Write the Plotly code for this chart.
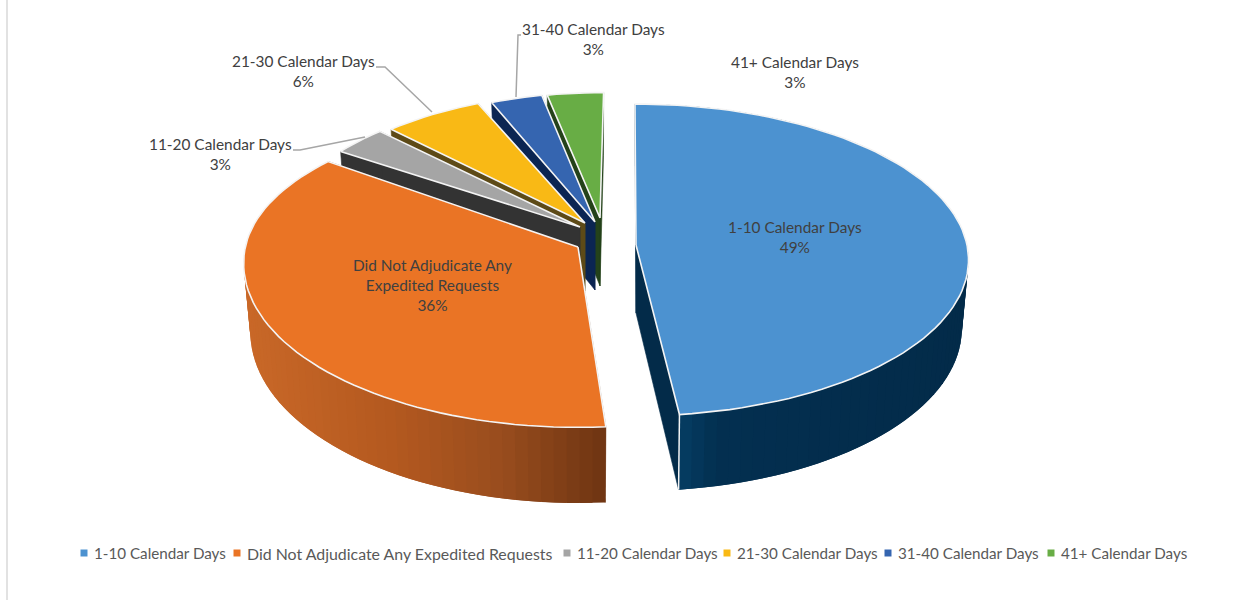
import math
import plotly.graph_objects as go

# ---- data ----
categories = ["1-10 Calendar Days", "Did Not Adjudicate Any Expedited Requests",
              "11-20 Calendar Days", "21-30 Calendar Days",
              "31-40 Calendar Days", "41+ Calendar Days"]
slice_shares = [48.3, 36.2, 3.2, 6.0, 3.2, 3.1]   # estimated from the drawn wedges
percent_labels = ["49%", "36%", "3%", "6%", "3%", "3%"]

# ---- styling / layout of the pseudo-3D pie ----
top_colors = ["#4c92d0", "#ea7425", "#a5a5a5", "#f9b915", "#3565b0", "#68ad45"]
face_colors = ["#032b49", "#6e3512", "#333333", "#5d4a17", "#0b2552", "#24421a"]
rim_ramps = [[(0.0, "#074d78"), (0.25, "#032f50"), (1.0, "#032b49")],
             [(0.0, "#c96828"), (0.4, "#b4591f"), (0.7, "#9a4d1e"), (1.0, "#6e3512")],
             None, None, None, None]
apex_x = [636, 578, 580, 585, 595, 600]
apex_y = [245, 247, 227, 223, 222, 218]
radius_x = [1.0, 1.005, 0.91, 0.88, 0.85, 0.84]
radius_y = [1.0, 1.05, 0.93, 0.91, 0.91, 0.88]       # front half of each wedge
radius_y_back = [1.0, 0.96, 0.93, 0.91, 0.91, 0.88]  # back half of each wedge
start_nudge = [0.5, 2.5, 0.0, 0.0, 0.0, 0.0]   # degrees, perspective correction
end_nudge = [0.0, 4.0, 0.0, 0.0, 0.0, 1.5]
A, B, K, D, SHRINK = 331.0, 154.5, 0.096, 68.0, 0.02
START_ANGLE = -0.7
WHITE = "#f4f4f4"


def proj(i, theta, r=1.0, z=0.0):
    u = r * radius_x[i] * math.sin(theta)
    c = math.cos(theta)
    v = -r * (radius_y_back[i] if c > 0 else radius_y[i]) * c
    w = 1 - K * v
    x = apex_x[i] + A * u / w * (1 - SHRINK * z)
    y = apex_y[i] + B * v / w + D * z / w
    return x, y


def mix(c1, c2, t):
    a = [int(c1[j:j + 2], 16) for j in (1, 3, 5)]
    b = [int(c2[j:j + 2], 16) for j in (1, 3, 5)]
    return "#%02x%02x%02x" % tuple(round(p + (q - p) * t) for p, q in zip(a, b))


def ramp(stops, t):
    for (t0, c0), (t1, c1) in zip(stops, stops[1:]):
        if t <= t1:
            return mix(c0, c1, (t - t0) / (t1 - t0))
    return stops[-1][1]


fig = go.Figure()


def poly(pts, fill, line=None, lw=0.6):
    fig.add_trace(go.Scatter(
        x=[p[0] for p in pts] + [pts[0][0]], y=[p[1] for p in pts] + [pts[0][1]],
        mode="lines", fill="toself", fillcolor=fill,
        line=dict(color=line or fill, width=lw), hoverinfo="skip", showlegend=False))


# wedge angles come from the shares
edges = [START_ANGLE]
for s in slice_shares:
    edges.append(edges[-1] + s * 3.6)

for i in [5, 4, 3, 2, 1, 0]:
    d0, d1 = edges[i] + start_nudge[i], edges[i + 1] + end_nudge[i]
    a0, a1 = math.radians(d0), math.radians(d1)
    n = max(6, int((d1 - d0) / 2))
    thetas = [a0 + (a1 - a0) * k / n for k in range(n + 1)]
    # radial side faces
    for a in (a0, a1):
        poly([proj(i, 0, 0), proj(i, a), proj(i, a, 1, 1), proj(i, 0, 0, 1)], face_colors[i])
    # outer rim, with its gradient; each band overlaps the next so no seams show
    if rim_ramps[i]:
        top = [proj(i, t) for t in thetas]
        bot = [proj(i, t, 1, 1) for t in thetas]
        xs = [p[0] for p in top]
        xmin, xmax = min(xs), max(xs)
        for k in range(n):
            frac = ((top[k][0] + top[k + 1][0]) / 2 - xmin) / (xmax - xmin)
            m = min(k + 2, n)
            poly([top[k], top[m], bot[m], bot[k]], ramp(rim_ramps[i], frac), None, 0)
    # top face
    poly([proj(i, 0, 0)] + [proj(i, t) for t in thetas], top_colors[i], WHITE, 1.6)

# white corner on the front of the largest wedge
c_a = math.radians(edges[1] + end_nudge[0])
c0, c1 = proj(0, c_a), proj(0, c_a, 1, 1)
fig.add_trace(go.Scatter(x=[c0[0], c1[0]], y=[c0[1], c1[1]], mode="lines",
                         line=dict(color=WHITE, width=1.5), hoverinfo="skip", showlegend=False))

# leader lines
leaders = [([293, 300, 365], [150, 150, 137]),
           ([376, 385, 432], [67, 67, 112]),
           ([521, 518, 516], [35, 35, 97])]
for lx, ly in leaders:
    fig.add_trace(go.Scatter(x=lx, y=ly, mode="lines", line=dict(color="#a6a6a6", width=1.5),
                             hoverinfo="skip", showlegend=False))

# data labels
FONT = "Lato, 'Open Sans', sans-serif"
label_x = [795, 432, 220, 303, 593, 795]
label_y = [237, 285, 154, 71, 39, 72]
label_lines = [[categories[0]],
               ["Did Not Adjudicate Any", "Expedited Requests"],
               [categories[2]], [categories[3]], [categories[4]], [categories[5]]]
annotations = []
for i in range(6):
    annotations.append(dict(x=label_x[i], y=label_y[i], xref="x", yref="y", showarrow=False,
                            text="<br>".join(label_lines[i] + [percent_labels[i]]),
                            align="center", font=dict(family=FONT, size=15.4, color="#404040")))

# legend row
legend_marker_x = [84, 237, 567, 727, 888, 1051]
legend_font_size = [15.2, 15.9, 15.2, 15.2, 15.2, 15.2]
LEGEND_Y = 553
for i, name in enumerate(categories):
    fig.add_trace(go.Scatter(x=[legend_marker_x[i]], y=[LEGEND_Y], mode="markers", name=name,
                             marker=dict(symbol="square", size=7, color=top_colors[i]),
                             hoverinfo="skip", showlegend=False))
    annotations.append(dict(x=legend_marker_x[i] + 8, y=LEGEND_Y, xref="x", yref="y",
                            xanchor="left", showarrow=False, text=name,
                            font=dict(family=FONT, size=legend_font_size[i], color="#595959")))

fig.update_layout(
    width=1249, height=600, margin=dict(l=0, r=0, t=0, b=0),
    paper_bgcolor="white", plot_bgcolor="white", showlegend=False,
    xaxis=dict(range=[0, 1249], visible=False, fixedrange=True),
    yaxis=dict(range=[600, 0], visible=False, fixedrange=True),
    annotations=annotations,
    shapes=[dict(type="line", x0=7, x1=7, y0=0, y1=600, xref="x", yref="y",
                 line=dict(color="#e2e2e2", width=2))],
)
fig.write_html("out.html", post_script="document.body.style.margin='0';",
               config={"displayModeBar": False})
